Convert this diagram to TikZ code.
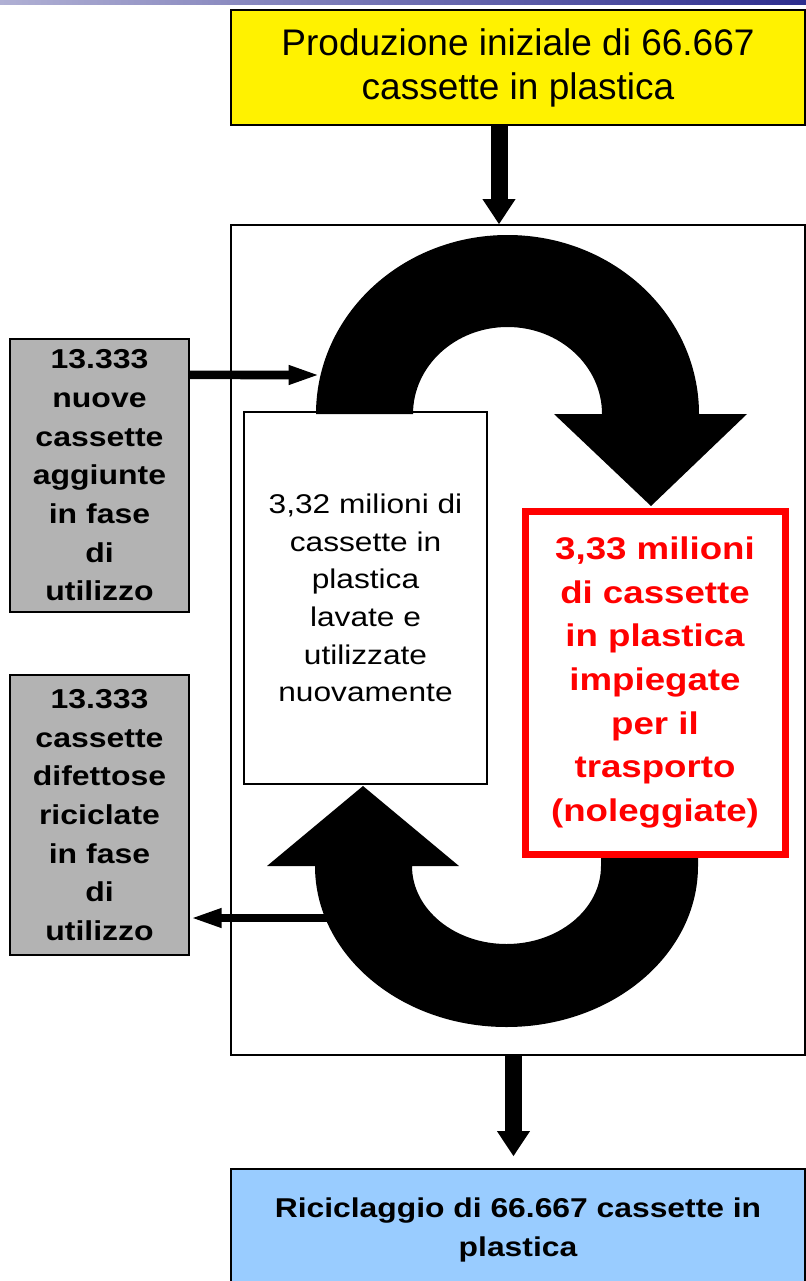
\documentclass[tikz,border=0pt]{standalone}
\usepackage{fontspec}
\setmainfont{Liberation Sans}
\newfontfamily\wide[FakeStretch=1.17]{Liberation Sans}
\usetikzlibrary{arrows.meta}
\definecolor{grayfill}{HTML}{B3B3B3}
\definecolor{bluefill}{HTML}{99CCFF}
\definecolor{stripL}{HTML}{B0B0D4}
\definecolor{stripR}{HTML}{2E2E8E}
\tikzset{
  box/.style={draw=black, line width=1pt, inner sep=0pt, align=center},
  graybox/.style={box, fill=grayfill, minimum width=134.25pt,
     font=\wide\bfseries\fontsize{20.5}{29}\selectfont},
  fatarrow/.style={line width=12.75pt, -{Triangle[length=19pt,width=23.5pt]}},
  thinarrow/.style={line width=6.4pt, -{Triangle[length=24pt,width=13pt]}},
  curved/.style={fill=black}
}
\begin{document}
\begin{tikzpicture}[x=0.75pt, y=-0.75pt]
\useasboundingbox (0,0) rectangle (806,1281);
\shade[left color=stripL, right color=stripR] (0,0) rectangle (806,5);

\node[box, fill=yellow, minimum width=430.5pt, minimum height=86.25pt,
      font=\fontsize{27.75}{33}\selectfont] (yellow) at (518,67.5)
      {Produzione iniziale di 66.667\\cassette in plastica};

\node[box, fill=white, minimum width=430.5pt, minimum height=622.5pt] (bigbox) at (518,640) {};

\node[box, fill=white, minimum width=182.25pt, minimum height=279pt,
      font=\wide\fontsize{20.3}{28.2}\selectfont] (inner) at (365.5,598)
      {3,32 milioni di\\cassette in\\plastica\\lavate e\\utilizzate\\nuovamente};

\node[graybox, minimum height=204.75pt] (gray1) at (99.5,475.5)
      {13.333\\nuove\\cassette\\aggiunte\\in fase\\di\\utilizzo};
\node[graybox, minimum height=210pt] (gray2) at (99.5,815)
      {13.333\\cassette\\difettose\\riciclate\\in fase\\di\\utilizzo};

\node[box, fill=bluefill, minimum width=430.5pt, minimum height=90.75pt,
      font=\wide\bfseries\fontsize{20.4}{29.25}\selectfont] (blue) at (518,1229.5)
      {Riciclaggio di 66.667 cassette in\\plastica};

% connectors
\draw[fatarrow] ([xshift=-14.25pt]yellow.south) -- ([xshift=-14.25pt]bigbox.north);
\draw[fatarrow, shorten >=9pt] ([xshift=-3.4pt]bigbox.south) -- ([xshift=-3.4pt]blue.north);

\coordinate (arcin) at (320.6,375);
\coordinate (arcout) at (330,918);
\draw[thinarrow] ([yshift=75.4pt]gray1.east) -- (arcin);
\draw[thinarrow] (arcout) -- ([yshift=-77.25pt]gray2.east);

% curved arrows
\fill[curved] (316,414) arc[start angle=180, end angle=360, x radius=191.5, y radius=179]
   -- (747,414) -- (651,506) -- (554,414) -- (602,414)
   arc[start angle=360, end angle=180, x radius=94.5, y radius=87] -- cycle;
\fill[curved] (315,866) arc[start angle=180, end angle=0, x radius=191.5, y radius=161]
   -- (698,858) -- (601,858) -- (601,866)
   arc[start angle=0, end angle=180, x radius=94.5, y radius=78]
   -- (459,866) -- (363,786) -- (267,866) -- cycle;

\node[draw=red, line width=5.25pt, fill=white, inner sep=0pt, align=center,
      minimum width=195pt, minimum height=257.25pt, text=red,
      font=\wide\bfseries\fontsize{23.5}{32.75}\selectfont] (redbox) at (655,682.5)
      {3,33 milioni\\di cassette\\in plastica\\impiegate\\per il\\trasporto\\(noleggiate)};
\end{tikzpicture}
\end{document}
